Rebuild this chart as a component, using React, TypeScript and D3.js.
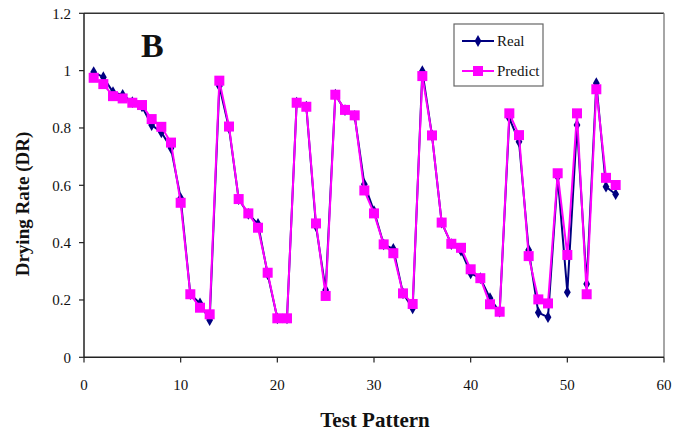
import React from "react";
import * as d3 from "d3";

const patterns = d3.range(1, 56);
const realValues = [
  0.995, 0.977, 0.925, 0.915, 0.89, 0.875, 0.81, 0.785, 0.73, 0.555,
  0.22, 0.188, 0.13, 0.946, 0.8, 0.552, 0.5, 0.465, 0.29, 0.136,
  0.136, 0.888, 0.874, 0.458, 0.235, 0.916, 0.862, 0.842, 0.604, 0.51,
  0.394, 0.378, 0.223, 0.171, 0.998, 0.774, 0.47, 0.395, 0.372, 0.293,
  0.276, 0.206, 0.159, 0.834, 0.752, 0.374, 0.156, 0.14, 0.63, 0.227,
  0.81, 0.256, 0.956, 0.595, 0.569,
];
const predictValues = [
  0.975, 0.953, 0.911, 0.903, 0.888, 0.88, 0.831, 0.804, 0.749, 0.539,
  0.22, 0.173, 0.15, 0.965, 0.805, 0.552, 0.502, 0.452, 0.295, 0.136,
  0.136, 0.888, 0.874, 0.467, 0.214, 0.916, 0.863, 0.844, 0.582, 0.502,
  0.394, 0.363, 0.223, 0.186, 0.981, 0.774, 0.47, 0.396, 0.382, 0.307,
  0.276, 0.185, 0.159, 0.851, 0.775, 0.353, 0.202, 0.188, 0.642, 0.357,
  0.851, 0.22, 0.935, 0.626, 0.601,
];
const xTicks = [0, 10, 20, 30, 40, 50, 60];
const yTicks = [0, 0.2, 0.4, 0.6, 0.8, 1, 1.2];
const seriesNames = ["Real", "Predict"];
const panelLabel = "B";
const xTitle = "Test Pattern";
const yTitle = "Drying Rate (DR)";

const FONT = "Liberation Serif, DejaVu Serif, serif";
const NAVY = "#000080";
const MAGENTA = "#FF00FF";

export default function App() {
  const x = d3.scaleLinear().domain([0, 60]).range([84, 664]);
  const y = d3.scaleLinear().domain([0, 1.2]).range([357.3, 13.3]);
  const line = d3
    .line<number>()
    .x((_, i) => x(patterns[i]))
    .y((d) => y(d));
  const diamond = d3.symbol().type(d3.symbolDiamond).size(40)();

  return (
    <svg
      width={684}
      height={432}
      style={{ position: "absolute", left: 0, top: 0, background: "#fff", fontFamily: FONT }}
    >
      {/* frame */}
      <line x1={84} x2={664} y1={13.3} y2={13.3} stroke="#333" strokeWidth={1.5} />
      <line x1={664} x2={664} y1={13.3} y2={357.3} stroke="#888" strokeWidth={1.5} />
      <line x1={84} x2={84} y1={13.3} y2={357.3} stroke="#222" strokeWidth={1.5} />
      <line x1={84} x2={664} y1={357.3} y2={357.3} stroke="#222" strokeWidth={1.5} />

      {yTicks.map((t) => (
        <g key={"y" + t}>
          <line x1={79} x2={84} y1={y(t)} y2={y(t)} stroke="#222" strokeWidth={1.2} />
          <text x={71} y={y(t)} dy="0.35em" textAnchor="end" fontSize={15} fill="#111">
            {t}
          </text>
        </g>
      ))}
      {xTicks.map((t) => (
        <g key={"x" + t}>
          <line x1={x(t)} x2={x(t)} y1={357.3} y2={362.5} stroke="#222" strokeWidth={1.2} />
          <text x={x(t)} y={390} textAnchor="middle" fontSize={15} fill="#111">
            {t}
          </text>
        </g>
      ))}

      <text x={375} y={427} textAnchor="middle" fontSize={21} fontWeight="bold" fill="#111">
        {xTitle}
      </text>
      <text
        transform="translate(29,204) rotate(-90)"
        textAnchor="middle"
        fontSize={19}
        fontWeight="bold"
        fill="#111"
      >
        {yTitle}
      </text>
      <text x={141} y={57} fontSize={34} fontWeight="bold" fill="#111">
        {panelLabel}
      </text>

      {/* Real series */}
      <path d={line(realValues) || ""} fill="none" stroke={NAVY} strokeWidth={2} />
      {realValues.map((v, i) => (
        <path
          key={"r" + i}
          d={diamond || ""}
          transform={`translate(${x(patterns[i])},${y(v)})`}
          fill={NAVY}
        />
      ))}
      {/* Predict series */}
      <path d={line(predictValues) || ""} fill="none" stroke={MAGENTA} strokeWidth={2} />
      {predictValues.map((v, i) => (
        <rect
          key={"p" + i}
          x={x(patterns[i]) - 5}
          y={y(v) - 5}
          width={10}
          height={10}
          fill={MAGENTA}
        />
      ))}

      {/* legend */}
      <rect x={454} y={24} width={89} height={62} fill="#fff" stroke="#666" strokeWidth={1.2} />
      <line x1={462} x2={494} y1={41} y2={41} stroke={NAVY} strokeWidth={2} />
      <path d={diamond || ""} transform="translate(478,41)" fill={NAVY} />
      <text x={497} y={46} fontSize={15} fill="#111">
        {seriesNames[0]}
      </text>
      <line x1={462} x2={494} y1={71} y2={71} stroke={MAGENTA} strokeWidth={2} />
      <rect x={473} y={66} width={10} height={10} fill={MAGENTA} />
      <text x={497} y={76} fontSize={15} fill="#111">
        {seriesNames[1]}
      </text>
    </svg>
  );
}
